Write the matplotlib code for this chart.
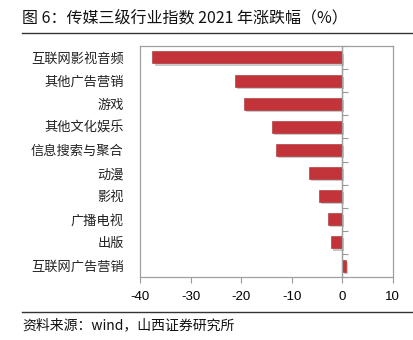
import matplotlib
matplotlib.use("Agg")
import matplotlib.pyplot as plt
import matplotlib.patheffects as pe
from matplotlib.lines import Line2D
import numpy as np

plt.rcParams['font.family'] = ['Noto Sans CJK SC', 'DejaVu Sans']

# data (%)
categories = ["互联网影视音频", "其他广告营销", "游戏", "其他文化娱乐", "信息搜索与聚合",
              "动漫", "影视", "广播电视", "出版", "互联网广告营销"]
changes = [-37.6, -21.3, -19.4, -14.0, -13.2, -6.6, -4.7, -2.9, -2.3, 0.7]
x_ticks = [-40, -30, -20, -10, 0, 10]

title = "图 6：传媒三级行业指数 2021 年涨跌幅（%）"
source = "资料来源：wind，山西证券研究所"

fig = plt.figure(figsize=(4.14, 3.40), dpi=100)
ax = fig.add_axes([0.339, 0.185, 0.610, 0.680])

y = np.arange(len(categories))
bars = ax.barh(y, changes, height=0.52, color="#C3343A", edgecolor="#A82A2E",
               linewidth=0.4, zorder=3)
for b in bars:
    b.set_path_effects([
        pe.SimplePatchShadow(offset=(1.5, -1.5), shadow_rgbFace="#888888", alpha=0.45),
        pe.Normal(),
    ])

xmin, xmax = x_ticks[0], x_ticks[-1]
ax.set_xlim(xmin, xmax)
ax.set_ylim(len(categories) - 0.5, -0.5)
ax.set_xticks(x_ticks)
ax.set_xticklabels([str(t) for t in x_ticks], fontsize=9.5, family="Liberation Sans")
ax.set_yticks(y)
ax.set_yticklabels(categories, fontsize=9.5, color="#222222")
ax.tick_params(axis="y", length=0, pad=12)
ax.tick_params(axis="x", length=4, width=0.8, color="#9a9a9a", pad=6)

for s in ax.spines.values():
    s.set_color("#a0a0a0")
    s.set_linewidth(0.9)

# vertical axis at zero with tick marks between categories
ax.axvline(0, color="#a0a0a0", linewidth=0.9, zorder=4)
zero_loc = (0 - xmin) / (xmax - xmin)
sec = ax.secondary_yaxis(zero_loc)
sec.set_yticks(np.arange(len(categories) + 1) - 0.5)
sec.set_yticklabels([])
sec.tick_params(length=4, width=0.8, color="#9a9a9a", direction="out")
sec.spines["left"].set_visible(False)

# title and source, with rules
fig.text(22 / 414, 1 - 18 / 340, title, fontsize=11.5, va="center", ha="left",
         fontweight="medium", color="#111111")
fig.add_artist(Line2D([22 / 414, 1.0], [1 - 33 / 340] * 2, color="#333333", linewidth=1.0))
fig.add_artist(Line2D([22 / 414, 1.0], [1 - 312 / 340] * 2, color="#333333", linewidth=1.0))
fig.text(22 / 414, 1 - 325 / 340, source, fontsize=10, va="center", ha="left",
         color="#111111")

fig.savefig("out.png", dpi=100)
